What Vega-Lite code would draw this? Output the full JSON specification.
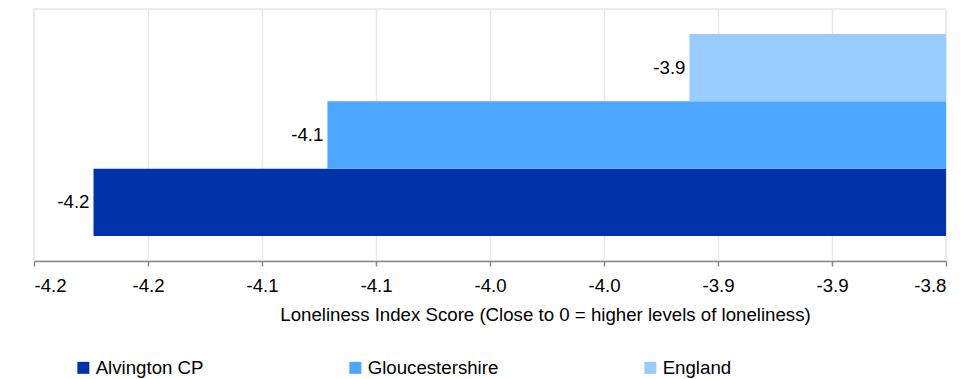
{
  "$schema": "https://vega.github.io/schema/vega-lite/v6.json",
  "width": 912,
  "height": 252,
  "autosize": {"type": "none"},
  "padding": {"left": 34, "top": 9, "right": 28, "bottom": 118},
  "background": "white",
  "config": {
    "font": "Liberation Sans",
    "view": {"stroke": "#e8e8e8", "strokeWidth": 1.5},
    "locale": {
      "number": {"decimal": ".", "thousands": ",", "grouping": [3], "currency": ["", ""], "minus": "-"}
    }
  },
  "data": {
    "values": [
      {"name": "Alvington CP", "value": -4.1739},
      {"name": "Gloucestershire", "value": -4.0713},
      {"name": "England", "value": -3.9125}
    ]
  },
  "encoding": {
    "y": {
      "field": "name",
      "type": "nominal",
      "sort": ["England", "Gloucestershire", "Alvington CP"],
      "scale": {"paddingInner": 0, "paddingOuter": 0.37},
      "axis": null
    }
  },
  "layer": [
    {
      "mark": {"type": "bar"},
      "encoding": {
        "x": {
          "field": "value",
          "type": "quantitative",
          "scale": {"domain": [-4.2, -3.8], "nice": false, "zero": false},
          "axis": {
            "values": [-4.2, -4.15, -4.1, -4.05, -4.0, -3.95, -3.9, -3.85, -3.8],
            "labelExpr": "'-' + format(round(-datum.value*10+0.001)/10, '.1f')",
            "title": "Loneliness Index Score (Close to 0 = higher levels of loneliness)",
            "grid": true,
            "gridColor": "#e8e8e8",
            "gridWidth": 1.5,
            "domainColor": "#888888",
            "domainWidth": 1.5,
            "tickColor": "#888888",
            "tickWidth": 1.5,
            "tickSize": 5,
            "labelFontSize": 18.67,
            "labelColor": "#000000",
            "labelPadding": 10,
            "titleFontSize": 18.67,
            "titleFontWeight": "normal",
            "titleColor": "#000000",
            "titlePadding": 11,
            "titleX": 511,
            "titleAlign": "center"
          }
        },
        "x2": {"datum": -3.8},
        "color": {
          "field": "name",
          "type": "nominal",
          "scale": {
            "domain": ["Alvington CP", "Gloucestershire", "England"],
            "range": ["#0033AA", "#4DA6FF", "#99CCFF"]
          },
          "legend": {
            "orient": "none",
            "legendX": 40,
            "legendY": 349,
            "direction": "horizontal",
            "title": null,
            "symbolType": "square",
            "symbolSize": 144,
            "symbolStrokeWidth": 0,
            "symbolOpacity": 1,
            "labelOffset": 3,
            "columnPadding": 142,
            "labelFontSize": 18.67,
            "labelColor": "#000000",
            "labelLimit": 300
          }
        }
      }
    },
    {
      "mark": {"type": "text", "align": "right", "baseline": "middle", "dx": -4, "fontSize": 18.67, "color": "#000000"},
      "encoding": {
        "x": {"field": "value", "type": "quantitative"},
        "text": {"field": "value", "type": "quantitative", "format": ".1f"}
      }
    }
  ]
}
